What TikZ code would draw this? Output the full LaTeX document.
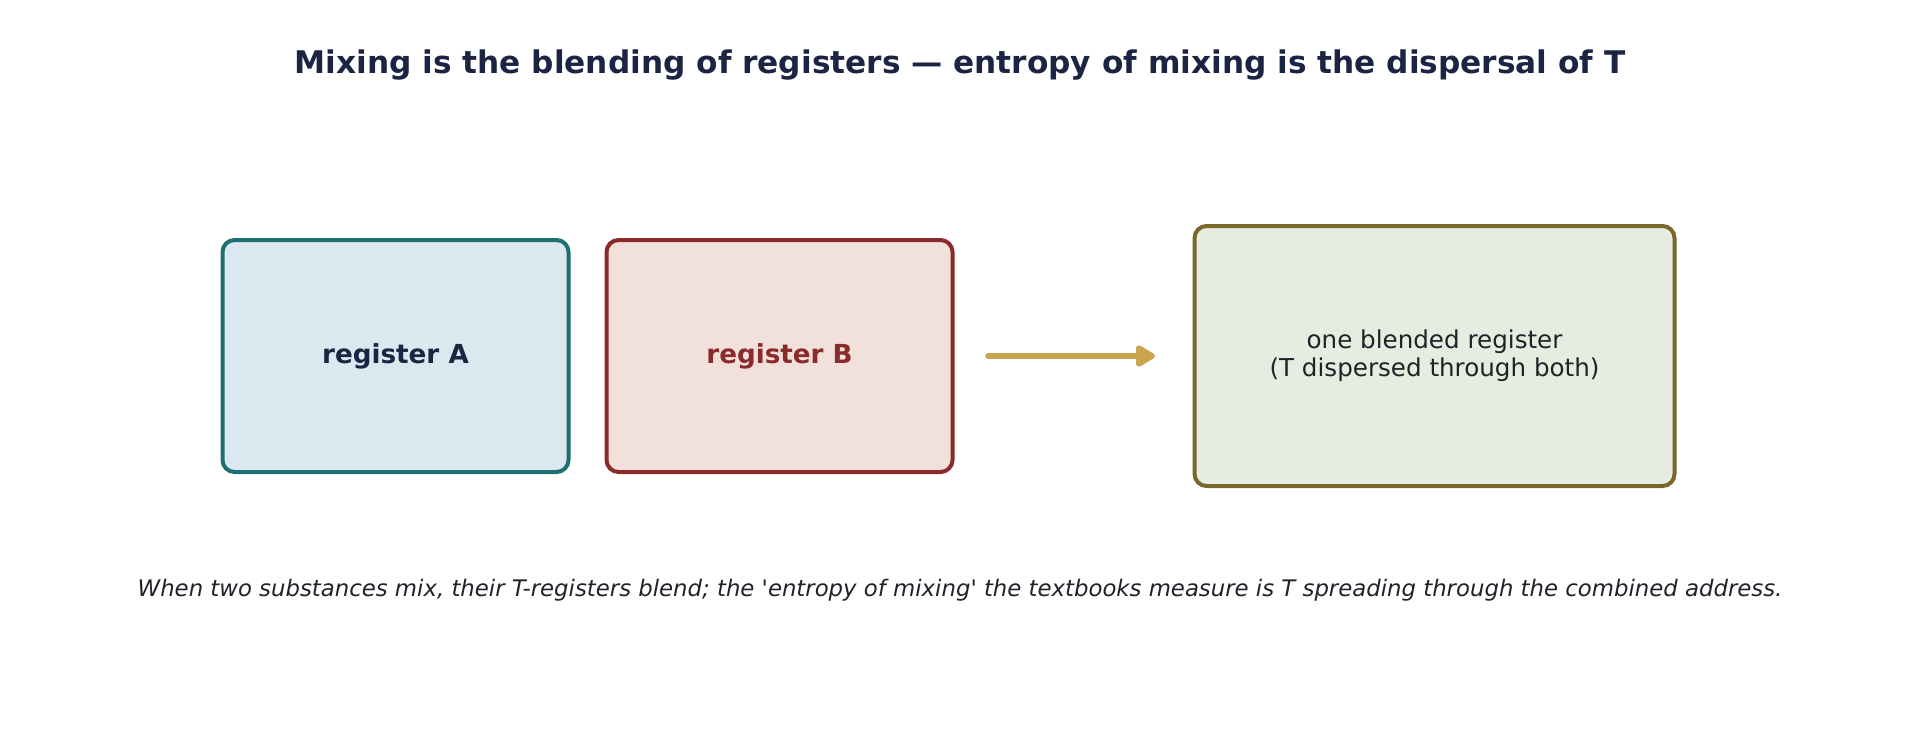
\documentclass[tikz,border=0pt]{standalone}
\usepackage{fontspec}
\setmainfont{DejaVu Sans}
\usetikzlibrary{arrows.meta}
\definecolor{titlecol}{HTML}{1B2442}
\definecolor{afill}{HTML}{DCE8F0}
\definecolor{adraw}{HTML}{1F6E72}
\definecolor{bfill}{HTML}{F1E1DA}
\definecolor{bdraw}{HTML}{8B2A2A}
\definecolor{cfill}{HTML}{E6ECE0}
\definecolor{cdraw}{HTML}{7A672B}
\definecolor{arrcol}{HTML}{C9A64E}
\definecolor{textcol}{HTML}{1F2228}
\tikzset{
  regbox/.style={rounded corners=6pt, line width=2pt, inner sep=0pt, align=center},
}
\begin{document}
\begin{tikzpicture}[x=0.5pt,y=-0.5pt]
\useasboundingbox (0,0) rectangle (1920,740);
\node[text=titlecol, font=\fontsize{15.6}{18}\selectfont\bfseries] (title) at (960,65) {Mixing is the blending of registers — entropy of mixing is the dispersal of T};
\node[regbox, draw=adraw, fill=afill, minimum width=173pt, minimum height=116pt, text=titlecol, font=\fontsize{13.1}{15}\selectfont\bfseries] (A) at (395.5,356) {register A};
\node[regbox, draw=bdraw, fill=bfill, minimum width=173pt, minimum height=116pt, text=bdraw, font=\fontsize{13.1}{15}\selectfont\bfseries] (B) at (779.5,356) {register B};
\node[regbox, draw=cdraw, fill=cfill, minimum width=240pt, minimum height=130pt, text=textcol, font=\fontsize{12.3}{14}\selectfont] (C) at (1434.5,356) {one blended register\\(T dispersed through both)};
\coordinate (s) at (988,356);
\coordinate (e) at (1155,356);
\draw[arrcol, line width=2.8pt, line cap=round, -{Triangle[length=11pt,width=12pt,round]}] (s) -- (e);
\node[text=textcol, font=\fontsize{11.4}{14}\selectfont\itshape] (cap) at (960,590) {When two substances mix, their T-registers blend; the \textquotesingle entropy of mixing\textquotesingle{} the textbooks measure is T spreading through the combined address.};
\end{tikzpicture}
\end{document}
